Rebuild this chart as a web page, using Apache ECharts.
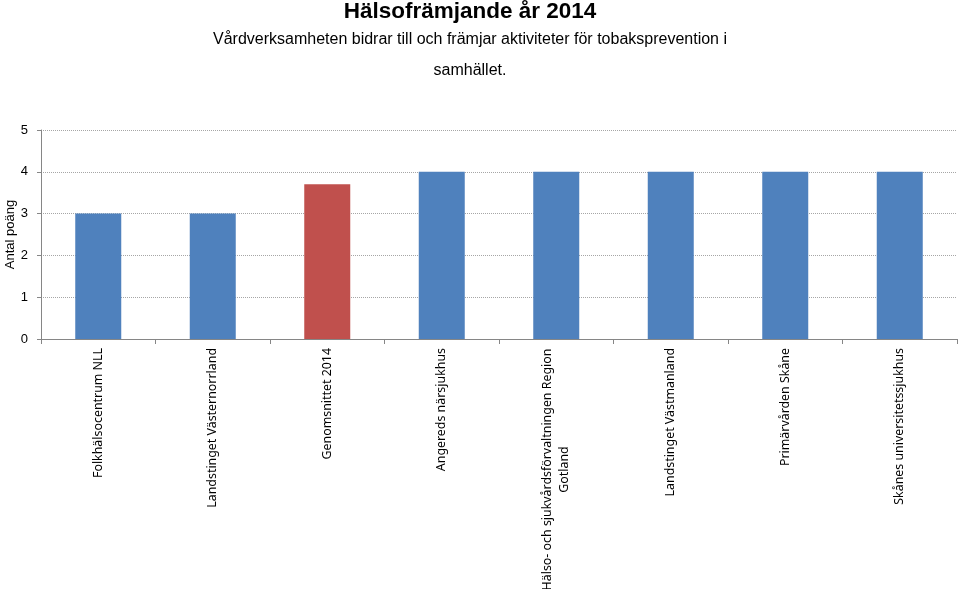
<!DOCTYPE html>
<html>
<head>
<meta charset="utf-8">
<script src="https://cdn.jsdelivr.net/npm/echarts@6/dist/echarts.min.js"></script>
<style>html,body{margin:0;padding:0;background:#fff}#c{width:960px;height:589px}</style>
</head>
<body>
<div id="c"></div>
<script>
var categories = [
  "Folkhälsocentrum NLL",
  "Landstinget Västernorrland",
  "Genomsnittet 2014",
  "Angereds närsjukhus",
  "Hälso- och sjukvårdsförvaltningen Region\nGotland",
  "Landstinget Västmanland",
  "Primärvården Skåne",
  "Skånes universitetssjukhus"
];
var values = [3, 3, 3.7, 4, 4, 4, 4, 4];
var highlightIndex = 2;
var yTicks = [0, 1, 2, 3, 4, 5];

var LABEL_FONT_SIZE = 12.4;
var LABEL_FONT = '"Noto Sans"';
var measureCtx = document.createElement('canvas').getContext('2d');
measureCtx.font = LABEL_FONT_SIZE + 'px ' + LABEL_FONT;
function textWidth(s) { return measureCtx.measureText(s).width; }

var chart = echarts.init(document.getElementById('c'));
chart.setOption({
  animation: false,
  backgroundColor: '#fff',
  title: {
    text: 'Hälsofrämjande år 2014',
    subtext: 'Vårdverksamheten bidrar till och främjar aktiviteter för tobaksprevention i\nsamhället.',
    left: 470,
    textAlign: 'center',
    top: 0,
    padding: [0, 0, 0, 0],
    itemGap: 1,
    textStyle: { fontFamily: 'Liberation Sans', fontSize: 22.5, fontWeight: 'bold', color: '#000' },
    subtextStyle: { fontFamily: 'Liberation Sans', fontSize: 16, color: '#000', lineHeight: 31 }
  },
  grid: { left: 41, right: 3, top: 130, bottom: 250, containLabel: false, outerBoundsMode: 'none' },
  xAxis: {
    type: 'category',
    data: categories,
    axisLine: { lineStyle: { color: '#868686' } },
    axisTick: { show: true, interval: 0, length: 5, lineStyle: { color: '#868686' } },
    axisLabel: {
      interval: 0,
      rotate: 90,
      margin: 9,
      fontFamily: LABEL_FONT,
      fontSize: LABEL_FONT_SIZE,
      color: '#000',
      lineHeight: 17,
      formatter: function (v) {
        var lines = v.split('\n');
        if (lines.length < 2) return v;
        var w = 0;
        lines.forEach(function (s) { w = Math.max(w, textWidth(s)); });
        w = Math.ceil(w) + 1;
        return lines.map(function (s) { return '{a' + Math.round(w) + '|' + s + '}'; }).join('\n');
      },
      rich: (function () {
        var r = {};
        for (var w = 100; w <= 400; w++) {
          r['a' + w] = { width: w, align: 'center', fontFamily: LABEL_FONT, fontSize: LABEL_FONT_SIZE, color: '#000', lineHeight: 17 };
        }
        return r;
      })()
    }
  },
  yAxis: {
    type: 'value',
    min: yTicks[0],
    max: yTicks[yTicks.length - 1],
    interval: 1,
    name: 'Antal poäng',
    nameLocation: 'middle',
    nameGap: 24,
    nameMoveOverlap: false,
    nameTextStyle: { fontFamily: 'Liberation Sans', fontSize: 13, color: '#000' },
    axisLine: { show: true, lineStyle: { color: '#868686' } },
    axisTick: { show: true, length: 4, lineStyle: { color: '#868686' } },
    axisLabel: { margin: 13, fontFamily: 'Liberation Sans', fontSize: 13, color: '#000' },
    splitLine: { lineStyle: { type: 'dotted', color: '#A6A6A6' } }
  },
  series: [{
    type: 'bar',
    barWidth: 46,
    data: values.map(function (v, i) {
      return { value: v, itemStyle: { color: i === highlightIndex ? '#C0504D' : '#4F81BD' } };
    })
  }]
});
</script>
</body>
</html>
